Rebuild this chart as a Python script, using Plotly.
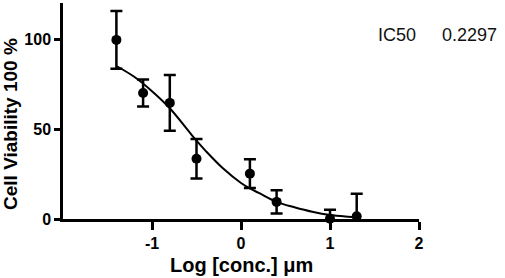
import plotly.graph_objects as go

# Measured points
log_conc = [-1.4, -1.1, -0.8, -0.5, 0.1, 0.4, 1.0, 1.3]
viability = [99.5, 70, 64.5, 33.5, 25.2, 9.5, 0.2, 1.5]
err = [16, 7.5, 15.5, 11, 8, 6.5, 5, 12.5]

# Fitted curve
fit_x = [-1.4, -1.2, -1.0, -0.8, -0.6, -0.5, -0.4, -0.2, 0.0, 0.1, 0.2, 0.4, 0.6, 0.8, 1.0, 1.2, 1.3]
fit_y = [85, 79, 71, 61.5, 49.5, 43.5, 38, 28, 20, 17, 14.5, 9.5, 6.5, 4, 2.2, 1.3, 1.0]

x_ticks = [-1, 0, 1, 2]
y_ticks = [0, 50, 100]
ic50_label = "IC50"
ic50_value = "0.2297"
x_title = "Log [conc.] μm"
y_title = "Cell Viability 100 %"

FONT = "Arial, Liberation Sans, Helvetica, sans-serif"

fig = go.Figure()
fig.add_trace(go.Scatter(
    x=fit_x, y=fit_y, mode="lines", line=dict(color="black", width=2, shape="spline"),
    hoverinfo="skip", showlegend=False))
fig.add_trace(go.Scatter(
    x=log_conc, y=viability, mode="markers",
    marker=dict(color="black", size=10),
    error_y=dict(type="data", array=err, visible=True, color="black", thickness=2.5, width=6),
    cliponaxis=False, showlegend=False))

fig.add_annotation(text=ic50_label, xref="paper", yref="paper", x=1.0, y=0.852,
                   showarrow=False, xanchor="left", yanchor="middle", xshift=-43,
                   font=dict(family=FONT, size=18, color="#111"))
fig.add_annotation(text=ic50_value, xref="paper", yref="paper", x=1.0, y=0.852,
                   showarrow=False, xanchor="left", yanchor="middle", xshift=21,
                   font=dict(family=FONT, size=18, color="#111"))
fig.add_annotation(text=f"<b>{x_title}</b>", xref="paper", yref="paper", x=0.5, y=0,
                   showarrow=False, xanchor="center", yanchor="middle", yshift=-46,
                   font=dict(family=FONT, size=20, color="black"))
fig.add_annotation(text=f"<b>{y_title}</b>", xref="paper", yref="paper", x=0, y=0.44,
                   showarrow=False, xanchor="center", yanchor="middle", xshift=-52,
                   textangle=-90, font=dict(family=FONT, size=19, color="black"))

axis_font = dict(family=FONT, size=16, color="black")
fig.update_layout(
    width=505, height=278,
    margin=dict(l=63, r=86, t=3, b=59, autoexpand=False),
    plot_bgcolor="white", paper_bgcolor="white",
    xaxis=dict(range=[-2, 2], tickvals=x_ticks, ticktext=[f"<b>{t}</b>" for t in x_ticks],
               showline=True, linecolor="black", linewidth=2.5, ticks="outside",
               ticklen=8, tickwidth=2.5, tickcolor="black", showgrid=False, zeroline=False,
               tickfont=axis_font, automargin=False),
    yaxis=dict(range=[0, 120], tickvals=y_ticks, ticktext=[f"<b>{t}</b>" for t in y_ticks],
               showline=True, linecolor="black", linewidth=2.5, ticks="outside",
               ticklen=6, tickwidth=2.5, tickcolor="black", showgrid=False, zeroline=False,
               tickfont=axis_font, automargin=False),
)
fig.write_html("out.html", config={"displayModeBar": False},
               post_script="document.body.style.margin='0';document.body.style.overflow='hidden';")
